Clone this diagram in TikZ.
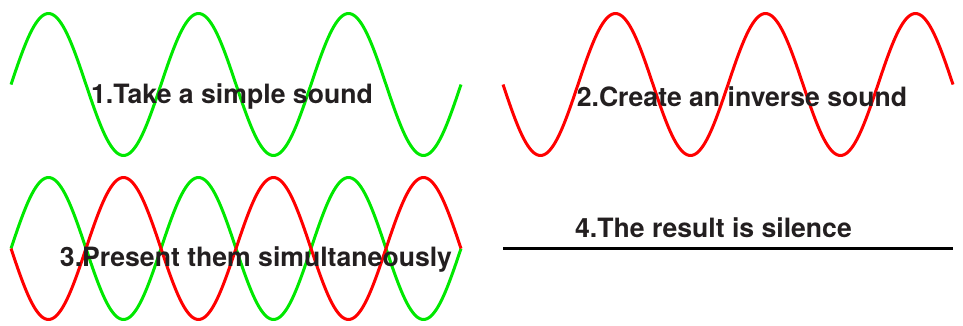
\documentclass[tikz,border=0pt]{standalone}
\usepackage{fontspec}
\setmainfont{TeX Gyre Heros}
\definecolor{wavegreen}{RGB}{0,232,0}
\definecolor{wavered}{RGB}{255,0,0}
\definecolor{labeltext}{RGB}{35,31,32}
\tikzset{
  wave/.style={line width=3bp, line join=round},
  steplabel/.style={text=labeltext, font=\fontsize{26.6bp}{30bp}\selectfont\bfseries, anchor=base, inner sep=0pt}
}
\begin{document}
\begin{tikzpicture}[x=1bp, y=-1bp]
\useasboundingbox (0,0) rectangle (963,325);
% panel 1
\draw[wave, wavegreen] plot[domain=0:450, samples=241, smooth] ({\x+11}, {84.5-71*sin(\x*2.4)});
% panel 2
\draw[wave, wavered] plot[domain=0:450, samples=241, smooth] ({\x+503}, {84.5+71*sin(\x*2.4)});
% panel 3
\draw[wave, wavegreen] plot[domain=0:450, samples=241, smooth] ({\x+11}, {248.5-71*sin(\x*2.4)});
\draw[wave, wavered] plot[domain=0:450, samples=241, smooth] ({\x+11}, {248.5+71*sin(\x*2.4)});
% panel 4
\coordinate (silA) at (503,248);
\coordinate (silB) at (953,248);
\draw[line width=3bp, black] (silA) -- (silB);
% labels
\node[steplabel] (t1) at (232,103.3) {1.Take a simple sound};
\node[steplabel] (t2) at (742,106) {2.Create an inverse sound};
\node[steplabel] (t3) at (256,266) {3.Present them simultaneously};
\node[steplabel] (t4) at (713.5,237.7) {4.The result is silence};
\end{tikzpicture}
\end{document}
